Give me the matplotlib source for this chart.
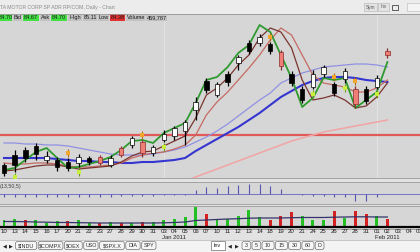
import matplotlib
matplotlib.use("Agg")
import matplotlib.pyplot as plt
import matplotlib.transforms as mtransforms
from matplotlib.patches import Rectangle, FancyBboxPatch
import numpy as np

plt.rcParams['font.family'] = ['Liberation Sans', 'DejaVu Sans']

# ---------------- data ----------------
dates = ['10', '13', '14', '15', '16', '17', '20', '21', '22', '23', '27', '28', '29', '30', '31',
         '03', '04', '05', '06', '07', '10', '11', '12', '13', '14', '18', '19', '20', '21', '24',
         '25', '26', '27', '28', '31', '01', '02', '03', '04', '07']
month_names = ['Jan 2011', 'Feb 2011']

open_ = [73.7, 74.7, 75.2, 75.6, 74.2, 74.2, 74.0, 73.9, 74.4, 74.5, 73.7, 75.4, 75.7, 76.0, 74.9,
         76.2, 76.6, 77.1, 79.2, 82.1, 80.7, 82.8, 83.9, 85.9, 85.9, 85.8, 85.0, 82.8, 81.3, 81.5,
         82.8, 81.8, 82.3, 81.3, 81.3, 81.5, 85.1]
high = [73.9, 75.2, 75.5, 75.9, 75.1, 74.5, 74.4, 74.8, 74.6, 74.7, 74.7, 75.6, 76.6, 76.2, 75.7,
        77.2, 77.6, 78.2, 80.5, 82.4, 82.0, 83.1, 84.7, 86.2, 86.8, 86.0, 85.2, 83.1, 81.6, 83.2,
        83.7, 82.0, 83.4, 81.6, 81.6, 82.7, 85.4]
low = [72.6, 73.0, 74.0, 74.2, 73.9, 73.1, 73.1, 73.5, 73.7, 73.7, 73.5, 74.5, 75.4, 74.5, 74.6,
       76.0, 76.2, 75.7, 78.2, 80.9, 80.5, 81.6, 83.2, 84.8, 85.6, 84.8, 83.2, 81.6, 79.9, 81.3,
       82.5, 80.6, 81.9, 79.4, 79.8, 81.3, 84.4]
close = [72.9, 73.7, 74.4, 74.8, 74.6, 73.5, 73.4, 74.5, 74.0, 73.9, 74.4, 74.7, 76.4, 74.9, 75.5,
         76.8, 77.4, 78.0, 80.0, 81.2, 81.8, 82.0, 84.5, 85.1, 86.5, 85.1, 83.6, 81.9, 80.2, 82.8,
         83.5, 80.9, 83.1, 79.8, 80.1, 82.4, 84.7]
red_bar_days = [9, 11, 13, 26, 33, 36]
top_signal_days = [6, 13, 25, 31, 33]
bottom_signal_days = [1, 7, 15, 29, 32, 35]

fast_line = [73.2, 73.4, 74.2, 75.0, 75.4, 74.4, 73.4, 73.5, 73.8, 74.1, 74.5, 75.2, 76.1, 76.2, 75.9,
             76.9, 77.4, 77.9, 79.9, 82.2, 82.5, 83.5, 84.9, 85.7, 87.7, 87.0, 84.7, 82.4, 79.5, 80.4,
             82.4, 82.2, 82.4, 79.4, 80.2, 81.0, 84.0]
mid_line = [73.1, 73.2, 73.4, 73.6, 73.7, 73.7, 73.5, 73.3, 73.4, 73.5, 73.6, 74.0, 74.6, 75.0, 75.1,
            75.6, 76.1, 76.6, 78.4, 80.7, 81.4, 82.4, 83.7, 84.7, 86.4, 87.4, 87.0, 85.4, 82.2, 80.2,
            80.4, 80.7, 80.2, 79.4, 79.6, 80.5, 81.9]
slow_line = [73.9, 73.8, 73.8, 73.9, 73.9, 73.8, 73.6, 73.5, 73.5, 73.6, 73.7, 73.9, 74.4, 74.7, 74.9,
             75.0, 75.3, 75.7, 76.7, 78.7, 80.0, 81.0, 82.2, 83.4, 84.7, 86.2, 87.4, 86.7, 84.7, 82.7,
             81.9, 81.7, 81.5, 81.0, 81.0, 81.4, 82.2]
ma_blue = [74.4, 74.4, 74.4, 74.4, 74.4, 74.3, 74.2, 74.1, 74.1, 74.0, 74.0, 73.9, 73.9, 74.0, 74.0,
           74.1, 74.2, 74.4, 75.1, 75.7, 76.3, 76.9, 77.5, 78.2, 78.9, 79.7, 80.5, 81.1, 81.7, 82.1,
           82.4, 82.5, 82.5, 82.4, 82.2, 82.1, 82.0]
ma_lavender = [75.9, 75.9, 75.8, 75.8, 75.7, 75.7, 75.6, 75.4, 75.2, 75.0, 74.8, 74.7, 74.7, 74.7, 74.8,
               75.0, 75.2, 75.5, 76.0, 76.5, 77.1, 77.8, 78.6, 79.4, 80.2, 80.9, 81.9, 82.4, 82.9, 83.2,
               83.5, 83.6, 83.7, 83.8, 83.8, 83.7, 83.5]
ma_long = [np.nan] * 17 + [72.1, 72.5, 72.9, 73.3, 73.7, 74.1, 74.5, 74.9, 75.3, 75.7, 76.1, 76.4,
                           76.7, 77.0, 77.2, 77.4, 77.6, 77.8, 78.0, 78.2]
resistance = 76.7

osc = [-0.30, -0.30, -0.30, -0.30, -0.30, -0.30, -0.30, -0.30, -0.30, -0.30, -0.25, -0.20, -0.20,
       -0.15, -0.15, -0.10, -0.10, -0.05, 0.40, 0.70, 0.65, 0.80, 0.90, 1.00, 1.00, 0.85, 0.50, 0.05,
       -0.10, -0.15, -0.15, -0.30, -0.25, -0.65, -0.65, -0.30, 0.05]
osc_params = '(13,50,5)'

volume_k = [385, 440, 385, 358, 220, 330, 330, 385, 220, 220, 275, 220, 220, 248, 248, 385, 440, 523,
            1078, 715, 440, 440, 589, 952, 534, 402, 589, 809, 622, 402, 369, 897, 495, 864, 715, 589, 460]
volume_up = [True, True, False, True, True, True, False, True, True, False, True, False, True, False,
             True, True, True, True, True, False, True, True, True, True, True, False, False, False,
             True, True, True, False, True, False, False, True, False]
volume_ma_k = [302, 302, 292, 275, 264, 248, 248, 236, 231, 220, 220, 220, 220, 220, 220, 231, 248, 275,
               358, 385, 413, 440, 456, 484, 495, 495, 495, 512, 523, 523, 523, 539, 550, 561, 561, 550, 550]

title_text = 'TA MOTOR CORP SP ADR RP/COM, Daily - Chart'
quote_last, quote_bid, quote_ask, quote_high, quote_low, quote_volume = 84.70, 84.67, 84.70, 85.11, 84.38, 459787
symbol_tabs = ['$INDU', '$COMPX', '$OEX', 'USO', '$SPX.X', 'DIA', 'SPY']
interval_tabs = ['3', '5', '10', '15', '30', '60', 'D']

# ---------------- layout ----------------
W, H = 420, 252
fig = plt.figure(figsize=(W / 100, H / 100), dpi=100)
fig.patch.set_facecolor('#e2e2e2')
BG = '#d6d6d6'
XLIM = (-4 / 10.65, (W - 4) / 10.65)


def panel(top, bottom):
    ax = fig.add_axes([0, 1 - bottom / H, 1, (bottom - top) / H])
    ax.set_facecolor(BG)
    ax.set_xlim(*XLIM)
    ax.set_xticks([])
    ax.set_yticks([])
    for s in ['left', 'right']:
        ax.spines[s].set_visible(False)
    for s in ['top', 'bottom']:
        ax.spines[s].set_color('#9a9a9a')
        ax.spines[s].set_linewidth(0.6)
    return ax


n = len(close)
x = np.arange(n)
month_starts = [i for i in range(1, len(dates)) if int(dates[i]) < int(dates[i - 1])]

# ----- main price panel -----
ax = panel(14, 178)
ax.set_ylim(72.4, 88.8)
for m in month_starts:
    ax.axvline(m, color='#e6e6e6', lw=0.6, zorder=0.5)
ax.axhline(resistance, color='#e05a5a', lw=1.6, zorder=1)
ax.plot(x, ma_long, color='#f2a4a4', lw=1.1, zorder=1.2)
ax.plot(x, ma_lavender, color='#9191e4', lw=0.9, zorder=1.3)
ax.plot(x, ma_blue, color='#3535d0', lw=1.5, zorder=1.4)
ax.plot(x, slow_line, color='#c46a62', lw=0.9, zorder=1.5)
ax.plot(x, mid_line, color='#7a3530', lw=0.9, zorder=1.6)
ax.plot(x, fast_line, color='#2f9a2f', lw=1.3, zorder=1.7)

o = np.array(open_); c = np.array(close)
face = []
edge = []
for i in range(n):
    if c[i] >= o[i]:
        face.append('white'); edge.append('black')
    elif i in red_bar_days:
        face.append('#ef7f76'); edge.append('#8a2a2a')
    else:
        face.append('black'); edge.append('black')
ax.vlines(x, low, high, color=edge, lw=0.9, zorder=3)
ax.bar(x, np.abs(c - o), bottom=np.minimum(o, c), width=0.42, color=face,
       edgecolor=edge, linewidth=0.5, zorder=3.2)

up = ax.transData + mtransforms.ScaledTranslation(0, 0.05, fig.dpi_scale_trans)
dn = ax.transData + mtransforms.ScaledTranslation(0, -0.05, fig.dpi_scale_trans)
th = [high[d] for d in top_signal_days]
bl = [low[d] for d in bottom_signal_days]
ax.plot(top_signal_days, th, ls='none', marker='|', ms=6, mew=0.8, color='#b06a10', transform=up, zorder=4)
ax.plot(top_signal_days, th, ls='none', marker='s', ms=3, mew=0, color='#f3a52c', transform=up, zorder=4.1)
ax.plot(bottom_signal_days, bl, ls='none', marker='|', ms=6, mew=0.8, color='#6a9a10', transform=dn, zorder=4)
ax.plot(bottom_signal_days, bl, ls='none', marker='s', ms=3, mew=0, color='#c6ee3e', transform=dn, zorder=4.1)

# ----- oscillator panel -----
ax2 = panel(182, 204)
ax2.set_ylim(-1.0, 1.2)
ax2.axhline(0, color='#7272c4', lw=0.7)
ax2.vlines(x, 0, osc, color='#5656b0', lw=0.8)
ax2.text(-0.45, 1.0, osc_params, fontsize=3.8, color='#404040', va='top', ha='left')

# ----- volume panel -----
ax3 = panel(206, 229)
ax3.set_ylim(-110, 1155)
ax3.bar(x, volume_k, width=0.28, color=['#22c022' if u else '#d42020' for u in volume_up], zorder=2)
ax3.plot(x, volume_ma_k, color='#34346a', lw=0.9, zorder=3)
ax3.axhline(0, color='black', lw=1.6, zorder=4)

# ----- overlay chrome (pixel coordinates) -----
ov = fig.add_axes([0, 0, 1, 1], zorder=10)
ov.set_xlim(0, W); ov.set_ylim(H, 0); ov.axis('off'); ov.patch.set_alpha(0)

ov.add_patch(Rectangle((0, 0), W, 13.5, fc='#ececec', ec='none'))
ov.plot([0, W], [13.5, 13.5], color='#9c9c9c', lw=0.6)
ov.text(0, 7, title_text, fontsize=3.7, color='#8a8a8a', va='center', ha='left')
for x0, x1, t in [(364, 377, 'Sym'), (378, 389, 'Inv')]:
    ov.add_patch(Rectangle((x0, 3), x1 - x0, 8, fc='#e4e4e4', ec='#b0b0b0', lw=0.4))
    ov.text((x0 + x1) / 2, 7, t, fontsize=3.4, color='#555555', ha='center', va='center')
ov.add_patch(Rectangle((392, 4.5), 6, 5, fc='none', ec='#444444', lw=0.6))
ov.add_patch(Rectangle((407, 3), 14, 8, fc='#f4f4f4', ec='#b8b8b8', lw=0.4))

green, grey, red = '#42e042', '#c2c2c2', '#e23030'
quote = [('%.2f' % quote_last, green, 13), ('Bid', grey, 10), ('%.2f' % quote_bid, green, 17),
         ('Ask', grey, 11), ('%.2f' % quote_ask, green, 17), ('High', grey, 15),
         ('%.2f' % quote_high, grey, 15), ('Low', grey, 12), ('%.2f' % quote_low, red, 16),
         ('Volume', grey, 20), ('{:,}'.format(quote_volume), grey, 22)]
xp = 0
for t, col, w in quote:
    ov.add_patch(Rectangle((xp, 14.2), w - 0.6, 7, fc=col, ec='none'))
    ov.text(xp + (w - 0.6) / 2, 17.9, t, fontsize=4.0, color='#1a1a1a', ha='center', va='center')
    xp += w

tr = mtransforms.blended_transform_factory(ax3.transData, ov.transData)
for i, d in enumerate(dates):
    ov.text(i, 231.5, d, fontsize=4.4, color='#202020', ha='center', va='center', transform=tr)
for m, name in zip(month_starts, month_names):
    ov.text(m + 1, 237.5, name, fontsize=4.2, color='#202020', ha='center', va='center', transform=tr)

ov.add_patch(Rectangle((0, 240), W, 12, fc='#f3f3f3', ec='none'))
ov.plot([0, W], [240, 240], color='#b4b4b4', lw=0.5)
ov.text(4.5, 246, '\u25c0', fontsize=3.6, color='#222222', ha='center', va='center')
ov.text(11, 246, '\u25b6', fontsize=3.6, color='#222222', ha='center', va='center')
xp = 15.5
for t in symbol_tabs:
    w = 4.0 + 3.45 * len(t)
    ov.add_patch(FancyBboxPatch((xp, 241.5), w, 8, boxstyle='round,pad=0,rounding_size=2',
                                fc='#f6f6f6', ec='#707070', lw=0.5))
    ov.text(xp + w / 2, 245.7, t, fontsize=3.9, color='#303030', ha='center', va='center')
    xp += w + 1.5
ov.add_patch(Rectangle((210.5, 241), 14, 8.5, fc='white', ec='#707070', lw=0.5))
ov.text(217.5, 245.5, 'Inv', fontsize=3.9, color='#202020', ha='center', va='center')
ov.text(230, 246, '\u25c0', fontsize=3.6, color='#222222', ha='center', va='center')
ov.text(237, 246, '\u25b6', fontsize=3.6, color='#222222', ha='center', va='center')
xp = 242
for t in interval_tabs:
    w = 5.5 + 3.3 * len(t)
    ov.add_patch(FancyBboxPatch((xp, 241.5), w, 8, boxstyle='round,pad=0,rounding_size=2',
                                fc='#f6f6f6', ec='#707070', lw=0.5))
    ov.text(xp + w / 2, 245.7, t, fontsize=3.9, color='#303030', ha='center', va='center')
    xp += w + 1.2

fig.savefig('out.png', dpi=100, facecolor=fig.get_facecolor())
